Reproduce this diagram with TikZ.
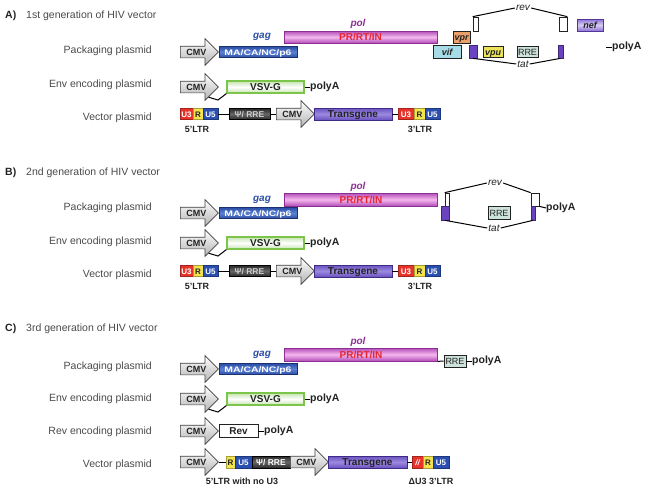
\documentclass[tikz,border=0pt]{standalone}
\usepackage{fontspec}
\setmainfont{Liberation Sans}
\usepackage{graphicx}
\usetikzlibrary{shapes.arrows}

\definecolor{labgray}{HTML}{4A4A4A}
\definecolor{inkgray}{HTML}{222222}
\definecolor{gagblue}{HTML}{2B4FA6}
\definecolor{gagdark}{HTML}{1C2F70}
\definecolor{gaglight}{HTML}{5C80D2}
\definecolor{poldark}{HTML}{B34CB8}
\definecolor{pollight}{HTML}{F4B8EE}
\definecolor{polline}{HTML}{8B2F93}
\definecolor{polred}{HTML}{E5262F}
\definecolor{vsvgreen}{HTML}{7DC44B}
\definecolor{tgpurple}{HTML}{6A50C2}
\definecolor{tglight}{HTML}{9C8ADF}
\definecolor{tgline}{HTML}{3D2B86}
\definecolor{u3red}{HTML}{E8332B}
\definecolor{ryellow}{HTML}{F3E34C}
\definecolor{u5blue}{HTML}{2B4FB0}
\definecolor{psidark}{HTML}{2A2A2A}
\definecolor{vprorange}{HTML}{EBA06B}
\definecolor{vifcyan}{HTML}{A6DCE6}
\definecolor{vpuyellow}{HTML}{ECE25A}
\definecolor{rreteal}{HTML}{CDE2DB}
\definecolor{nefpurple}{HTML}{8D70D8}
\definecolor{tatpurple}{HTML}{6943C0}

\newcommand{\gagtxt}{\scalebox{1.3}[1]{MA/CA/NC/p6}}

\begin{document}
\begin{tikzpicture}[x=1pt,y=-1pt,
  letter/.style={anchor=west,inner sep=0pt,text=inkgray,font=\fontsize{10.5}{12}\selectfont\bfseries},
  gen/.style={anchor=west,inner sep=0pt,text=labgray,font=\fontsize{10.5}{12}\selectfont},
  plasmid/.style={anchor=east,inner sep=0pt,text=labgray,font=\fontsize{10.5}{12}\selectfont},
  cmv/.style={single arrow,anchor=tail,draw=black!75,line width=0.7pt,top color=white,bottom color=black!30,
    single arrow head extend=7.5pt,minimum height=38pt,inner xsep=1.5pt,inner ysep=2pt,
    text height=6.5pt,text depth=0.5pt,font=\fontsize{9}{10}\selectfont\bfseries,text=inkgray},
  gene/.style={draw,rectangle,inner sep=0pt,line width=0.7pt,minimum height=11pt,
    text height=0.72em,text depth=0pt,font=\fontsize{8}{9}\selectfont\bfseries},
  gagbox/.style={gene,draw=gagdark,top color=gagblue,bottom color=gagblue,middle color=gaglight,
    text=white,minimum width=78pt},
  polbox/.style={gene,draw=polline,top color=poldark,bottom color=poldark,middle color=pollight,
    text=polred,minimum width=153pt,minimum height=12pt,font=\fontsize{10}{11}\selectfont\bfseries},
  vsvbox/.style={gene,draw=vsvgreen,line width=1.2pt,top color=vsvgreen!45,bottom color=vsvgreen!45,
    middle color=white,text=inkgray,minimum width=77pt,minimum height=12pt,
    font=\fontsize{10}{11}\selectfont\bfseries},
  tgbox/.style={gene,draw=tgline,top color=tgpurple,bottom color=tgpurple,middle color=tglight,
    text=inkgray,minimum width=78pt,minimum height=12pt,font=\fontsize{10}{11}\selectfont\bfseries},
  u3box/.style={gene,draw=u3red!70!black,fill=u3red,text=white},
  rbox/.style={gene,draw=ryellow!70!black,fill=ryellow,text=inkgray},
  u5box/.style={gene,draw=u5blue!70!black,fill=u5blue,text=white},
  psibox/.style={gene,draw=black,top color=psidark,bottom color=psidark,middle color=black!60,
    text=black!20,minimum width=41pt,font=\fontsize{8.5}{9}\selectfont\bfseries},
  acc/.style={gene,draw=inkgray,text=inkgray,font=\fontsize{9}{10}\selectfont\bfseries\itshape},
  rrebox/.style={gene,draw=inkgray,fill=rreteal,text=inkgray,minimum width=21pt,
    font=\fontsize{9}{10}\selectfont},
  exon/.style={gene,draw=tatpurple!60!black,fill=tatpurple,minimum height=13pt},
  revexon/.style={gene,draw=inkgray,fill=white,minimum height=14pt},
  genelab/.style={inner sep=0pt,font=\fontsize{10}{11}\selectfont\bfseries\itshape},
  splice/.style={inner sep=1pt,text=inkgray,font=\fontsize{10}{11}\selectfont\itshape},
  polya/.style={anchor=west,inner sep=0pt,text=inkgray,font=\fontsize{10.5}{12}\selectfont\bfseries},
  ltr/.style={inner sep=0pt,text=inkgray,font=\fontsize{9}{10}\selectfont\bfseries},
  link/.style={draw=black,line width=1pt}]

  \useasboundingbox (0,0) rectangle (646,498);

  % A) first generation
  \node[letter] (letA) at (5,16) {A)};
  \node[gen] (ttlA) at (26,16) {1st generation of HIV vector};
  \node[plasmid] (lpA1) at (152,51) {Packaging plasmid};
  \node[plasmid] (lpA2) at (152,85) {Env encoding plasmid};
  \node[plasmid] (lpA3) at (152,118) {Vector plasmid};

  \node[cmv] (cmvA1) at (180,52) {CMV};
  \node[gagbox] (gagA) at (258,52) {\gagtxt};
  \node[genelab,text=gagblue] (gaglA) at (262,37) {gag};
  \node[polbox] (polA) at (360.5,37) {PR/RT/IN};
  \node[genelab,text=polline] (pollA) at (358,24) {pol};
  \node[acc,fill=vprorange,minimum width=17pt,minimum height=12pt] (vprA) at (461.5,37) {vpr};
  \node[acc,fill=vifcyan,minimum width=28pt,minimum height=13pt] (vifA) at (447,51.5) {vif};
  \node[exon,minimum width=8pt] (tat1A) at (473,51.5) {};
  \node[acc,fill=vpuyellow,minimum width=20pt] (vpuA) at (493,51.5) {vpu};
  \node[rrebox] (rreA) at (527.5,51.5) {RRE};
  \node[exon,minimum width=5pt] (tat2A) at (560.5,51.5) {};
  \node[revexon,minimum width=5pt] (rev1A) at (475.5,24) {};
  \node[revexon,minimum width=8pt] (rev2A) at (563,24) {};
  \node[splice] (revA) at (523,8) {rev};
  \node[splice] (tatA) at (523,64) {tat};
  \node[acc,draw=tatpurple!80!black,top color=nefpurple,bottom color=nefpurple,middle color=nefpurple!35,
    minimum width=26pt,minimum height=12pt] (nefA) at (590,25) {nef};
  \coordinate (pyendA) at (606,47);
  \node[polya] (pyA1) at (612,47) {polyA};

  \path[link] (rev1A.north west) edge (revA.west)
   (revA.east) edge (rev2A.north east)
   (tat1A.south) edge (tatA.west)
   (tatA.east) edge (tat2A.south)
   (pyendA) edge (pyA1.west);

  \node[cmv] (cmvA2) at (180,87) {CMV};
  \node[vsvbox] (vsvA) at (265.5,87) {VSV-G};
  \node[polya] (pyA2) at (310,87) {polyA};
  \coordinate (bendA) at (218,100);
  \draw[link] (cmvA2.-40) -- (bendA) -- (vsvA.south west);
  \path[link] (vsvA.east) edge (pyA2.west);

  \node[u3box,minimum width=13pt] (u3A) at (186.5,114) {U3};
  \node[rbox,minimum width=10pt] (rA) at (198,114) {R};
  \node[u5box,minimum width=15pt] (u5A) at (210.5,114) {U5};
  \node[psibox] (psiA) at (249.5,114) {Ψ/ RRE};
  \node[cmv] (cmvA3) at (276,114) {CMV};
  \node[tgbox] (tgA) at (353,114) {Transgene};
  \node[u3box,minimum width=16pt] (u3Ab) at (406,114) {U3};
  \node[rbox,minimum width=11pt] (rAb) at (419.5,114) {R};
  \node[u5box,minimum width=15pt] (u5Ab) at (432.5,114) {U5};
  \node[ltr] (ltrA1) at (197,129) {5'LTR};
  \node[ltr] (ltrA2) at (420,129) {3'LTR};
  \path[link] (u5A) edge (psiA)
   (psiA) edge (cmvA3.tail)
   (tgA) edge (u3Ab);

  % B) second generation
  \node[letter] (letB) at (5,173) {B)};
  \node[gen] (ttlB) at (26,173) {2nd generation of HIV vector};
  \node[plasmid] (lpB1) at (152,208) {Packaging plasmid};
  \node[plasmid] (lpB2) at (152,242) {Env encoding plasmid};
  \node[plasmid] (lpB3) at (152,275) {Vector plasmid};

  \node[cmv] (cmvB1) at (180,213) {CMV};
  \node[gagbox] (gagB) at (258,213) {\gagtxt};
  \node[genelab,text=gagblue] (gaglB) at (262,200) {gag};
  \node[polbox,minimum height=13pt] (polB) at (361,199.5) {PR/RT/IN};
  \node[genelab,text=polline] (pollB) at (358,187) {pol};
  \node[revexon,minimum width=4pt,minimum height=13pt] (rev1B) at (447,199.5) {};
  \node[exon,minimum width=8pt,minimum height=14pt] (tat1B) at (445,213) {};
  \node[revexon,minimum width=8pt,minimum height=13pt] (rev2B) at (535,199.5) {};
  \node[exon,minimum width=4pt,minimum height=14pt] (tat2B) at (533,213) {};
  \node[rrebox,minimum width=22pt,minimum height=13pt] (rreB) at (499,212.5) {RRE};
  \node[splice] (revB) at (495,183) {rev};
  \node[splice] (tatB) at (494,228) {tat};
  \node[polya] (pyB1) at (546,208) {polyA};
  \path[link] (rev1B.north west) edge (revB.west)
   (revB.east) edge (rev2B.north west)
   (tat1B.south) edge (tatB.west)
   (tatB.east) edge (tat2B.south)
   (rev2B.south east) edge (pyB1.west);

  \node[cmv] (cmvB2) at (180,243) {CMV};
  \node[vsvbox] (vsvB) at (265.5,243) {VSV-G};
  \node[polya] (pyB2) at (310,243) {polyA};
  \coordinate (bendB) at (218,256);
  \draw[link] (cmvB2.-40) -- (bendB) -- (vsvB.south west);
  \path[link] (vsvB.east) edge (pyB2.west);

  \node[u3box,minimum width=13pt] (u3B) at (186.5,271) {U3};
  \node[rbox,minimum width=10pt] (rB) at (198,271) {R};
  \node[u5box,minimum width=15pt] (u5B) at (210.5,271) {U5};
  \node[psibox] (psiB) at (249.5,271) {Ψ/ RRE};
  \node[cmv] (cmvB3) at (276,271) {CMV};
  \node[tgbox] (tgB) at (353,271) {Transgene};
  \node[u3box,minimum width=16pt] (u3Bb) at (406,271) {U3};
  \node[rbox,minimum width=11pt] (rBb) at (419.5,271) {R};
  \node[u5box,minimum width=15pt] (u5Bb) at (432.5,271) {U5};
  \node[ltr] (ltrB1) at (197,286) {5'LTR};
  \node[ltr] (ltrB2) at (420,286) {3'LTR};
  \path[link] (u5B) edge (psiB)
   (psiB) edge (cmvB3.tail)
   (tgB) edge (u3Bb);

  % C) third generation
  \node[letter] (letC) at (5,329) {C)};
  \node[gen] (ttlC) at (26,329) {3rd generation of HIV vector};
  \node[plasmid] (lpC1) at (152,367) {Packaging plasmid};
  \node[plasmid] (lpC2) at (152,399) {Env encoding plasmid};
  \node[plasmid] (lpC3) at (152,432) {Rev encoding plasmid};
  \node[plasmid] (lpC4) at (152,465) {Vector plasmid};

  \node[cmv] (cmvC1) at (180,369) {CMV};
  \node[gagbox] (gagC) at (258,369) {\gagtxt};
  \node[genelab,text=gagblue] (gaglC) at (262,355) {gag};
  \node[polbox,minimum height=13pt] (polC) at (361,354.5) {PR/RT/IN};
  \node[genelab,text=polline] (pollC) at (358,342) {pol};
  \node[rrebox,minimum width=22pt,minimum height=12pt] (rreC) at (455,361) {RRE};
  \node[polya] (pyC1) at (472,361) {polyA};
  \path[link] (polC.south east) edge (rreC.west)
   (rreC) edge (pyC1.west);

  \node[cmv] (cmvC2) at (180,399) {CMV};
  \node[vsvbox] (vsvC) at (265.5,399) {VSV-G};
  \node[polya] (pyC2) at (310,399) {polyA};
  \coordinate (bendC) at (218,412);
  \draw[link] (cmvC2.-40) -- (bendC) -- (vsvC.south west);
  \path[link] (vsvC.east) edge (pyC2.west);

  \node[cmv] (cmvC3) at (180,431) {CMV};
  \node[gene,draw=inkgray,fill=white,text=inkgray,minimum width=39pt,minimum height=13pt,
    font=\fontsize{10}{11}\selectfont\bfseries] (revC) at (238.5,431) {Rev};
  \node[polya] (pyC3) at (264,431) {polyA};
  \path[link] (revC) edge (pyC3.west);

  \node[cmv] (cmvC4) at (180,462) {CMV};
  \node[rbox,minimum width=9pt,minimum height=12pt] (rC) at (230.5,462) {R};
  \node[u5box,minimum width=17pt,minimum height=12pt] (u5C) at (243.5,462) {U5};
  \node[psibox,minimum width=38pt,minimum height=12pt,text=white] (psiC) at (271,462) {Ψ/ RRE};
  \node[cmv] (cmvC5) at (290,462) {CMV};
  \node[tgbox,minimum width=79pt] (tgC) at (367.5,462) {Transgene};
  \node[u3box,minimum width=11pt,minimum height=12pt] (du3C) at (417.5,462) {\itshape //};
  \node[rbox,minimum width=10pt,minimum height=12pt] (rCb) at (428,462) {R};
  \node[u5box,minimum width=16pt,minimum height=12pt] (u5Cb) at (441,462) {U5};
  \node[ltr] (ltrC1) at (242,481) {5'LTR with no U3};
  \node[ltr] (ltrC2) at (431,481) {ΔU3 3'LTR};
  \path[link] (cmvC4.tip) edge (rC)
   (tgC) edge (du3C);
\end{tikzpicture}
\end{document}
